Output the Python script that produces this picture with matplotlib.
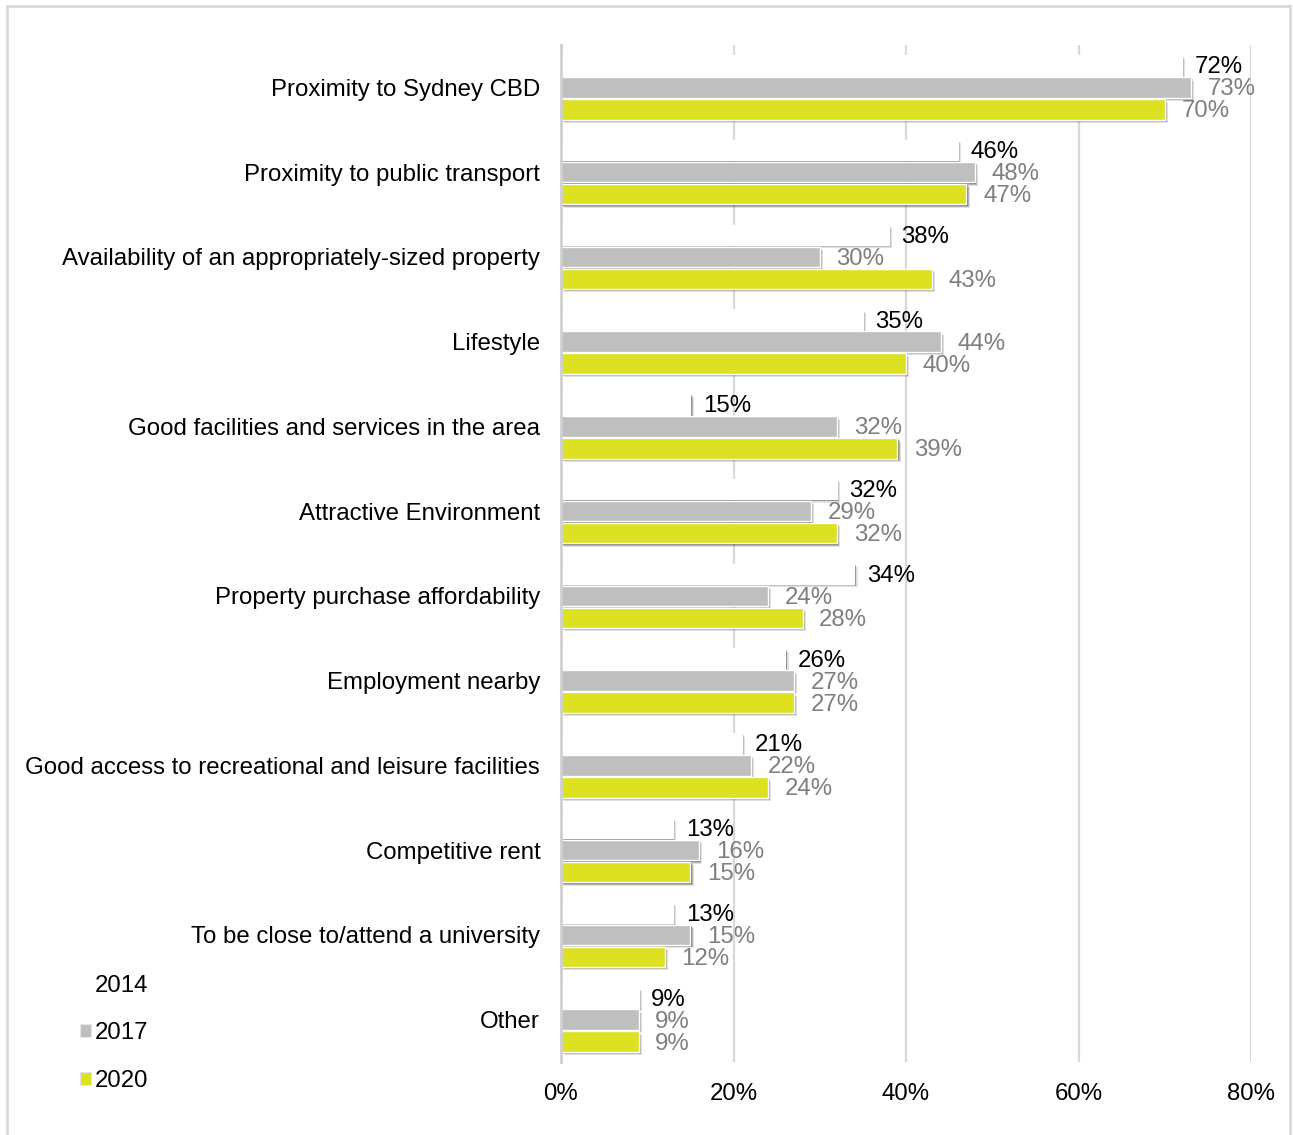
import matplotlib.pyplot as plt
import matplotlib.patheffects as pe
from matplotlib.patches import Patch
from matplotlib.lines import Line2D
import numpy as np

plt.rcParams['font.family'] = ['Liberation Sans', 'DejaVu Sans']

categories = [
    "Proximity to Sydney CBD",
    "Proximity to public transport",
    "Availability of an appropriately-sized property",
    "Lifestyle",
    "Good facilities and services in the area",
    "Attractive Environment",
    "Property purchase affordability",
    "Employment nearby",
    "Good access to recreational and leisure facilities",
    "Competitive rent",
    "To be close to/attend a university",
    "Other",
]
years = ["2014", "2017", "2020"]
vals_2014 = [72, 46, 38, 35, 15, 32, 34, 26, 21, 13, 13, 9]
vals_2017 = [73, 48, 30, 44, 32, 29, 24, 27, 22, 16, 15, 9]
vals_2020 = [70, 47, 43, 40, 39, 32, 28, 27, 24, 15, 12, 9]
xticks = [0, 20, 40, 60, 80]

colors = ["#ffffff", "#bfbfbf", "#dce122"]
label_colors = ["#000000", "#7f7f7f", "#7f7f7f"]
label_pad = [9, 12, 12]
offsets = [-0.26, 0.0, 0.26]
bar_h = 0.24
fs = 17.3

fig = plt.figure(figsize=(12.93, 11.35), dpi=100)
ax = fig.add_axes([561 / 1293, 1 - 1062 / 1135, 690 / 1293, 1017 / 1135])

# soft drop shadow like the office chart style
shadow = [
    pe.SimplePatchShadow(offset=(2.4, -2.4), shadow_rgbFace="#000000", alpha=0.12),
    pe.SimplePatchShadow(offset=(1.6, -1.6), shadow_rgbFace="#000000", alpha=0.2),
    pe.SimplePatchShadow(offset=(0.9, -0.9), shadow_rgbFace="#000000", alpha=0.3),
    pe.Normal(),
]

y = np.arange(len(categories))
for vals, col, lcol, pad, off in zip([vals_2014, vals_2017, vals_2020], colors,
                                     label_colors, label_pad, offsets):
    bars = ax.barh(y + off, vals, height=bar_h, color=col, edgecolor="white",
                   linewidth=1.0, zorder=3)
    for b in bars:
        b.set_path_effects(shadow)
    for yi, v in zip(y + off, vals):
        ax.annotate(f"{v}%", (v, yi), xytext=(pad, -1.5), textcoords="offset points",
                    ha="left", va="center", fontsize=fs, color=lcol, zorder=4)

ax.set_xlim(0, 80)
ax.set_ylim(len(categories) - 0.5, -0.5)
ax.set_xticks(xticks)
ax.set_xticklabels([f"{t}%" for t in xticks], fontsize=fs)
ax.set_yticks(y)
ax.set_yticklabels(categories, fontsize=fs)
ax.tick_params(axis="both", length=0)
ax.tick_params(axis="x", pad=15)
ax.tick_params(axis="y", pad=15)
ax.grid(axis="x", color="#d9d9d9", linewidth=1.6, zorder=0)
ax.set_axisbelow(True)
for s in ["top", "right", "bottom"]:
    ax.spines[s].set_visible(False)
ax.spines["left"].set_color("#d0d0d0")
ax.spines["left"].set_linewidth(2.0)
ax.spines["left"].set_zorder(5)

handles = [Patch(facecolor=c, edgecolor=("#ffffff" if i == 0 else "#e6e6e6"), linewidth=0.8)
           for i, c in enumerate(colors)]
fig.legend(handles, years, loc="upper left", bbox_to_anchor=(80 / 1293, 1 - 975 / 1135),
           frameon=False, fontsize=fs, handlelength=0.45, handleheight=0.45,
           handletextpad=0.15, labelspacing=1.06, borderaxespad=0, borderpad=0)

# outer frame
for xs, ys in [([7, 7], [6, 1140]), ([7, 1290], [6, 6]), ([1290, 1290], [6, 1140])]:
    fig.add_artist(Line2D([x / 1293 for x in xs], [1 - v / 1135 for v in ys],
                          color="#d9d9d9", linewidth=2, transform=fig.transFigure))

fig.savefig("out.png", dpi=100)
